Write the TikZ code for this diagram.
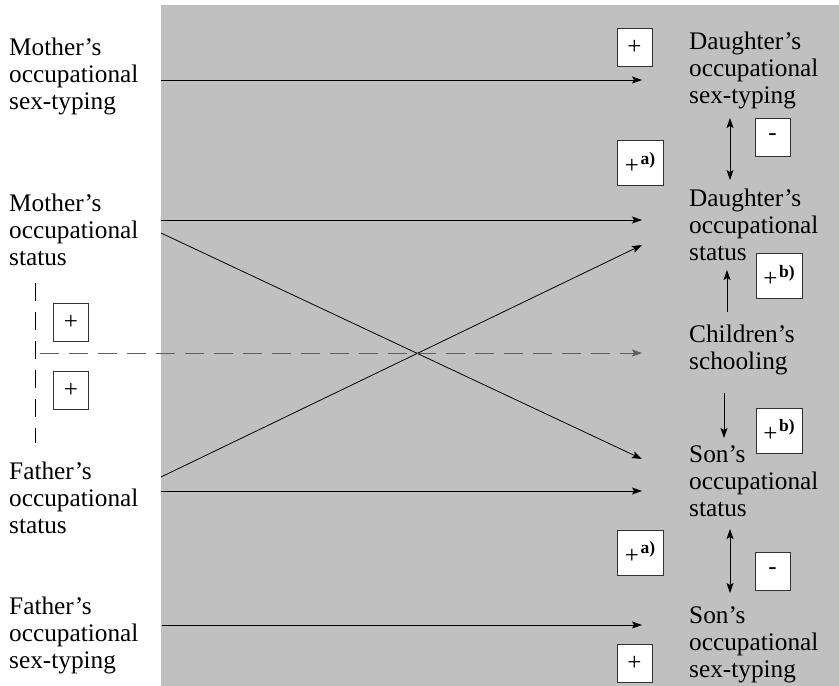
\documentclass[tikz,border=0pt]{standalone}
\usepackage{fontspec}
\setmainfont{Liberation Serif}
\usepackage{tikz}
\usetikzlibrary{arrows.meta,positioning,calc}
\definecolor{panel}{RGB}{192,192,192}
\definecolor{dashgray}{RGB}{95,95,95}
\newcommand{\sgnsup}[1]{{+}\kern1.5pt\raisebox{0.8ex}{\fontsize{17.5}{17.5}\selectfont\bfseries #1)}}

\begin{document}
\begin{tikzpicture}[x=1pt, y=-1pt,
  lbl/.style={anchor=north west, inner sep=0pt, align=left,
              font=\fontsize{25.3}{27}\selectfont},
  sgn/.style={draw=black!80, fill=white, line width=0.8pt, minimum width=35pt,
              minimum height=38pt, inner sep=1pt, font=\fontsize{25}{25}\selectfont},
  sgnw/.style={sgn, minimum width=46pt, minimum height=45pt},
  ar/.style={-{Stealth[length=10pt, width=7pt, inset=2pt]}, line width=0.8pt},
  dar/.style={{Stealth[length=10pt, width=7pt, inset=2pt]}-{Stealth[length=10pt, width=7pt, inset=2pt]},
              line width=0.8pt},
  dsh/.style={-{Stealth[length=10pt, width=7pt, inset=2pt]}, draw=dashgray, line width=1pt,
              dash pattern=on 19pt off 10pt}
]
  \useasboundingbox (0,0) rectangle (839,686);
  \fill[panel] (161,5) rectangle (839,686);

  % parents
  \node[lbl] (mst) at (9,38) {Mother’s\\occupational\\sex-typing};
  \node[lbl] (mss) at (9,194) {Mother’s\\occupational\\status};
  \node[lbl] (fss) at (9,462) {Father’s\\occupational\\status};
  \node[lbl] (fst) at (9,597) {Father’s\\occupational\\sex-typing};

  % children
  \node[lbl] (dst) at (689,32) {Daughter’s\\occupational\\sex-typing};
  \node[lbl] (dss) at (689,189) {Daughter’s\\occupational\\status};
  \node[lbl] (sch) at (689,325) {Children’s\\schooling};
  \node[lbl] (sss) at (689,445) {Son’s\\occupational\\status};
  \node[lbl] (sst) at (689,606) {Son’s\\occupational\\sex-typing};

  % signs
  \node[sgn] (p1) at (634.5,47) {+};
  \node[sgn] (m1) at (772.5,137) {-};
  \node[sgnw] (a1) at (640,163) {\sgnsup{a}};
  \node[sgnw] (b1) at (779,276) {\sgnsup{b}};
  \node[sgn] (pl1) at (71,322.5) {+};
  \node[sgn] (pl2) at (71,390.5) {+};
  \node[sgnw] (b2) at (779,430.5) {\sgnsup{b}};
  \node[sgnw] (a2) at (640,552.5) {\sgnsup{a}};
  \node[sgn] (m2) at (772.5,571) {-};
  \node[sgn] (p2) at (634.5,663) {+};

  % arrow ends
  \coordinate (mst-o) at (161,80);  \coordinate (dst-i) at (642,80);
  \coordinate (mss-o) at (161,220); \coordinate (dss-i) at (642,220);
  \coordinate (mss-x) at (161,233); \coordinate (sss-x) at (642,459);
  \coordinate (fss-x) at (161,477); \coordinate (dss-x) at (642,245);
  \coordinate (fss-o) at (161,491); \coordinate (sss-i) at (642,491);
  \coordinate (fst-o) at (162,625); \coordinate (sst-i) at (642,625);
  \coordinate (sch-o) at (40,353);  \coordinate (sch-i) at (642,353);
  \coordinate (par-t) at (35,283);  \coordinate (par-b) at (35,443);

  \draw[ar] (mst-o) -- (dst-i);
  \draw[ar] (mss-o) -- (dss-i);
  \draw[ar] (mss-x) -- (sss-x);
  \draw[ar] (fss-x) -- (dss-x);
  \draw[ar] (fss-o) -- (sss-i);
  \draw[ar] (fst-o) -- (sst-i);
  \draw[line width=0.8pt, dash pattern=on 18pt off 11pt] (par-t) -- (par-b);
  \draw[dsh] (sch-o) -- (sch-i);

  % links among children
  \coordinate (dst-b) at (730,118); \coordinate (dss-t) at (730,180);
  \coordinate (sch-t) at (727,312); \coordinate (dss-b) at (727,270);
  \coordinate (sch-b) at (724,393); \coordinate (sss-t) at (724,438);
  \coordinate (sss-b) at (730,529); \coordinate (sst-t) at (730,593);
  \draw[dar] (dst-b) -- (dss-t);
  \draw[ar] (sch-t) -- (dss-b);
  \draw[ar] (sch-b) -- (sss-t);
  \draw[dar] (sss-b) -- (sst-t);
\end{tikzpicture}
\end{document}
